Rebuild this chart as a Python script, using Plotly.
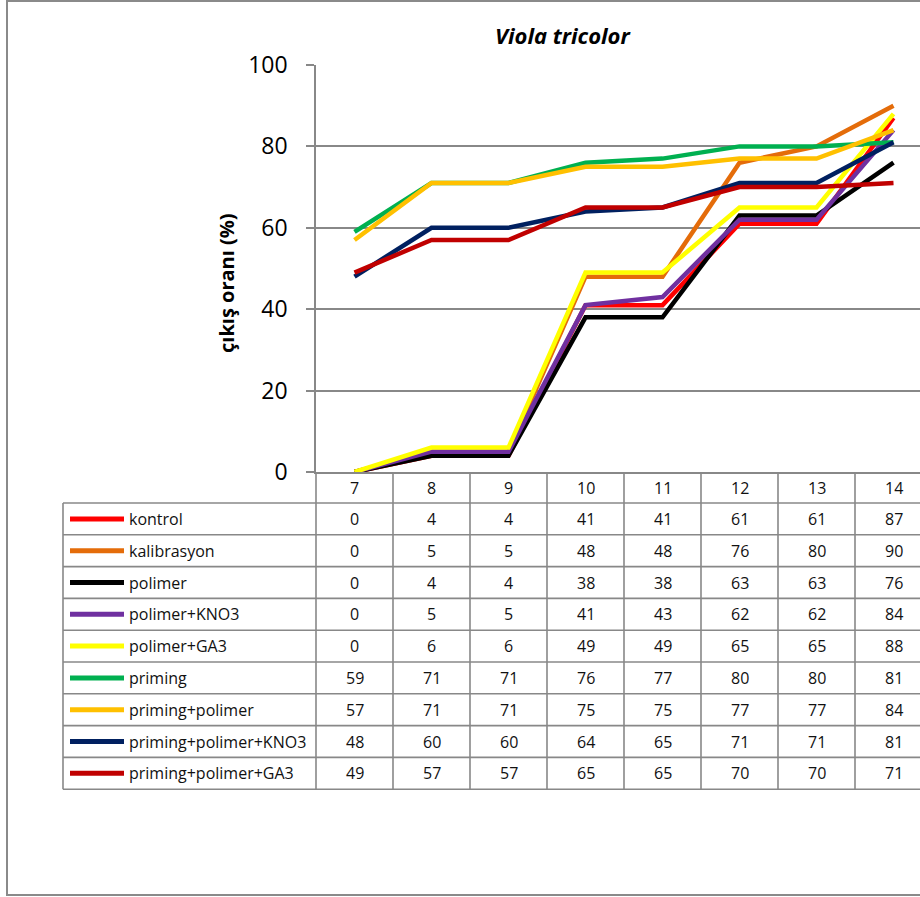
import plotly.graph_objects as go

# Days after sowing (chart categories)
days = ["7", "8", "9", "10", "11", "12", "13", "14"]

# Emergence rate (%) per treatment
kontrol = [0, 4, 4, 41, 41, 61, 61, 87]
kalibrasyon = [0, 5, 5, 48, 48, 76, 80, 90]
polimer = [0, 4, 4, 38, 38, 63, 63, 76]
polimer_kno3 = [0, 5, 5, 41, 43, 62, 62, 84]
polimer_ga3 = [0, 6, 6, 49, 49, 65, 65, 88]
priming = [59, 71, 71, 76, 77, 80, 80, 81]
priming_polimer = [57, 71, 71, 75, 75, 77, 77, 84]
priming_polimer_kno3 = [48, 60, 60, 64, 65, 71, 71, 81]
priming_polimer_ga3 = [49, 57, 57, 65, 65, 70, 70, 71]

series_names = ["kontrol", "kalibrasyon", "polimer", "polimer+KNO3", "polimer+GA3",
                "priming", "priming+polimer", "priming+polimer+KNO3", "priming+polimer+GA3"]
series_values = [kontrol, kalibrasyon, polimer, polimer_kno3, polimer_ga3,
                 priming, priming_polimer, priming_polimer_kno3, priming_polimer_ga3]
series_colors = ["#FF0000", "#E46C0A", "#000000", "#7030A0", "#FFFF00",
                 "#00B050", "#FFC000", "#002060", "#C00000"]

# ---- layout geometry (pixels) ----
W, H = 920, 897
PL, PR = 316, 920          # plot area left / right
PT, PB = 65, 472           # plot area top / bottom
COL_W = 77                 # width of one category column
TABLE_LEFT = 63
TABLE_TOP = 503
ROW_H = 31.8
GRID = "#888888"
FONT = "Open Sans"
TXT = "#111111"

def px(x):
    return (x - PL) / (PR - PL)

def py(y):
    return (PB - y) / (PB - PT)

positions = list(range(len(days)))
x_hi = -0.5 + (PR - PL) / COL_W

fig = go.Figure()
for name, vals, col in zip(series_names, series_values, series_colors):
    fig.add_trace(go.Scatter(
        x=positions, y=vals, mode="lines", name=name,
        line=dict(color=col, width=4.5), showlegend=False,
        hoverinfo="skip",
    ))

shapes = []
annotations = []

# chart frame
shapes.append(dict(type="rect", xref="paper", yref="paper",
                   x0=px(7), x1=px(930), y0=py(895), y1=py(1),
                   line=dict(color="#8a8a8a", width=2), layer="below"))

n_rows = len(series_names)
table_bottom = TABLE_TOP + n_rows * ROW_H

# horizontal row lines of the data table
for r in range(n_rows + 1):
    y = TABLE_TOP + r * ROW_H
    shapes.append(dict(type="line", xref="paper", yref="paper",
                       x0=px(TABLE_LEFT), x1=px(930), y0=py(y), y1=py(y),
                       line=dict(color=GRID, width=1.6)))
# left edge of the table
shapes.append(dict(type="line", xref="paper", yref="paper",
                   x0=px(TABLE_LEFT), x1=px(TABLE_LEFT), y0=py(TABLE_TOP), y1=py(table_bottom),
                   line=dict(color=GRID, width=1.6)))
# left edge of the value columns (continuation of the value axis)
shapes.append(dict(type="line", xref="paper", yref="paper",
                   x0=0, x1=0, y0=py(PB), y1=py(table_bottom),
                   line=dict(color=GRID, width=1.6)))
# category column separators
for k in range(1, len(days) + 1):
    shapes.append(dict(type="line", xref="x", yref="paper",
                       x0=k - 0.5, x1=k - 0.5, y0=py(PB), y1=py(table_bottom),
                       line=dict(color=GRID, width=1.6)))

# legend keys and cell values
for r, (name, vals, col) in enumerate(zip(series_names, series_values, series_colors)):
    yc = TABLE_TOP + (r + 0.5) * ROW_H
    shapes.append(dict(type="line", xref="paper", yref="paper",
                       x0=px(70), x1=px(124), y0=py(yc), y1=py(yc),
                       line=dict(color=col, width=5)))
    annotations.append(dict(xref="paper", yref="paper", x=px(127), y=py(yc),
                            text=name, showarrow=False, xanchor="left", yanchor="middle",
                            font=dict(family=FONT, size=16, color=TXT)))
    for k, v in enumerate(vals):
        annotations.append(dict(xref="x", yref="paper", x=k, y=py(yc),
                                text=str(v), showarrow=False, xanchor="center", yanchor="middle",
                                font=dict(family=FONT, size=16, color=TXT)))

# category header row
for k, d in enumerate(days):
    annotations.append(dict(xref="x", yref="paper", x=k, y=py(488),
                            text=d, showarrow=False, xanchor="center", yanchor="middle",
                            font=dict(family=FONT, size=16, color=TXT)))

# chart title
annotations.append(dict(xref="paper", yref="paper", x=px(563), y=py(35),
                        text="<b><i>Viola tricolor</i></b>", showarrow=False,
                        xanchor="center", yanchor="middle",
                        font=dict(family=FONT, size=22, color="#000000")))
# value axis title
annotations.append(dict(xref="paper", yref="paper", x=px(226), y=py(283),
                        text="<b>çıkış oranı (%)</b>", showarrow=False, textangle=-90,
                        xanchor="center", yanchor="middle",
                        font=dict(family=FONT, size=20, color="#000000")))

fig.update_layout(
    width=W, height=H,
    margin=dict(l=PL, r=W - PR, t=PT, b=H - PB, pad=0),
    paper_bgcolor="#FFFFFF", plot_bgcolor="#FFFFFF",
    shapes=shapes, annotations=annotations,
    showlegend=False,
    xaxis=dict(range=[-0.5, x_hi], showgrid=False, zeroline=False,
               showticklabels=False, ticks="", showline=True,
               linecolor=GRID, linewidth=1.6, fixedrange=True),
    yaxis=dict(range=[0, 100], tickvals=[0, 20, 40, 60, 80, 100],
               showgrid=True, gridcolor=GRID, gridwidth=1.6, zeroline=False,
               showline=True, linecolor=GRID, linewidth=1.6,
               ticks="outside", ticklen=8, tickcolor=GRID, tickwidth=1.6,
               ticklabelstandoff=14,
               tickfont=dict(family=FONT, size=23, color="#000000"),
               fixedrange=True),
)

fig.write_html("out.html")
